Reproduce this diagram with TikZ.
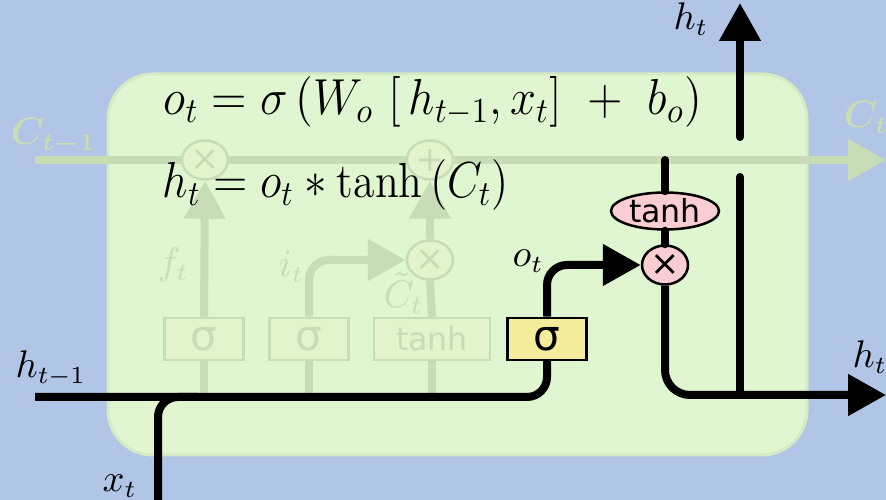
\documentclass[tikz,border=0pt]{standalone}
\usepackage{amsmath}
\usepackage{amssymb}
\usepackage{bm}
\usepackage{graphicx}
\usepackage{fontspec}
\usepackage{tikz}
\usetikzlibrary{arrows.meta, shapes.geometric}
\newfontfamily\gateFont{DejaVu Sans}
\definecolor{bgColor}{HTML}{B1C5E7}
\definecolor{cellColor}{HTML}{E0F6D0}
\definecolor{cellEdge}{HTML}{D4EBC3}
\definecolor{fadeColor}{HTML}{C8DCB6}
\definecolor{fadeFill}{HTML}{E3F4CC}
\definecolor{sigmaColor}{HTML}{F5EC9C}
\definecolor{pinkColor}{HTML}{F9CDD1}
\tikzset{
    mainLine/.style={line width=0.8mm, black, line cap=round, rounded corners=2mm},
    fadeLine/.style={line width=0.8mm, fadeColor, rounded corners=2mm},
    tipHead/.style={-{Triangle[length=3.8mm, width=4mm]}},
    gateBox/.style={draw, line width=0.25mm, minimum width=7.9mm, minimum height=4.2mm,
        inner sep=0pt, font=\gateFont\fontsize{12}{12}\selectfont},
    pointOp/.style={ellipse, draw, line width=0.25mm, minimum width=4.6mm, minimum height=3.9mm,
        inner sep=0pt, font=\gateFont\fontsize{10}{10}\selectfont},
    faded/.style={draw=fadeColor, fill=fadeFill, text=fadeColor},
    label/.style={anchor=base west, inner sep=0pt},
}
\begin{document}
\begin{tikzpicture}[x=0.1mm, y=-0.1mm, font=\fontsize{10.5}{12}\selectfont]
    \useasboundingbox[fill=bgColor] (0,0) rectangle (886,500);
    \draw[cellEdge, fill=cellColor, line width=0.3mm, rounded corners=4.5mm] (108,74) rectangle (807,455);

    \coordinate (cIn) at (35,160);
    \coordinate (cOut) at (886,160);
    \coordinate (hIn) at (35,397);
    \coordinate (xIn) at (158,500);
    \coordinate (cTap) at (665,160);
    \coordinate (hOut) at (886,395);
    \coordinate (hSplit) at (740,395);
    \coordinate (hSplitLow) at (740,177);
    \coordinate (hSplitHigh) at (740,137);
    \coordinate (hUp) at (740,3);

    \node[pointOp, faded] (multF) at (205,160) {×};
    \node[pointOp, faded] (addC) at (430,160) {+};
    \node[pointOp, faded] (multI) at (430,260) {×};
    \node[gateBox, faded] (sigF) at (204,339) {σ};
    \node[gateBox, faded] (sigI) at (309,339) {σ};
    \node[gateBox, faded, minimum width=11.6mm, font=\gateFont\fontsize{9}{9}\selectfont] (tanhC) at (432,339) {tanh};

    \draw[fadeLine, line cap=butt] (cIn) -- (multF.west);
    \draw[fadeLine] (multF.east) -- (addC.west);
    \draw[fadeLine, tipHead] (addC.east) -- (cOut);
    \draw[fadeLine, tipHead] (sigF.north) -- (multF.south);
    \draw[fadeLine, tipHead] (sigI.north) -- (sigI.north |- multI) -- (multI.west);
    \draw[fadeLine] (tanhC.north) -- (multI.south);
    \draw[fadeLine, tipHead] (multI.north) -- (addC.south);
    \draw[fadeLine] (sigF.south) -- (sigF.south |- hIn);
    \draw[fadeLine] (sigI.south) -- (sigI.south |- hIn);
    \draw[fadeLine] (tanhC.south) -- (tanhC.south |- hIn);

    \node[label, text=fadeColor] (cInLabel) at (10,145) {$\bm{C_{t-1}}$};
    \node[label, text=fadeColor] (cOutLabel) at (843,128) {$\bm{C_t}$};
    \node[label, text=fadeColor] (fLabel) at (157,275) {$f_t$};
    \node[label, text=fadeColor] (iLabel) at (278,277) {$i_t$};
    \node[label, text=fadeColor] (cTildeLabel) at (383,308) {$\tilde{C}_t$};

    \node[gateBox, fill=sigmaColor] (sigO) at (547,339) {σ};
    \node[pointOp, fill=pinkColor] (multO) at (665,265) {×};
    \node[pointOp, fill=pinkColor, minimum width=10.8mm, minimum height=3.7mm,
        font=\gateFont\fontsize{9}{9}\selectfont] (tanhO) at (665,211) {tanh};

    \draw[mainLine, line cap=butt] (hIn) -- (sigO.south |- hIn) -- (sigO.south);
    \draw[mainLine] (xIn) -- (xIn |- hIn) -- ([xshift=4mm]xIn |- hIn);
    \draw[mainLine, tipHead, line cap=butt] (sigO.north) -- (sigO.north |- multO) -- (multO.west);
    \draw[mainLine] (cTap) -- (tanhO.north);
    \draw[mainLine] (tanhO.south) -- (multO.north);
    \draw[mainLine, tipHead, line cap=butt, rounded corners=2.5mm] (multO.south) -- (multO.south |- hOut) -- (hOut);
    \draw[mainLine] (hSplitLow) -- (hSplit);
    \draw[mainLine, tipHead] (hSplitHigh) -- (hUp);

    \node[label] (hUpLabel) at (673,30) {$h_t$};
    \node[label] (oLabel) at (512,267) {$o_t$};
    \node[label] (hOutLabel) at (852,368) {$h_t$};
    \node[label] (hInLabel) at (15,378) {$h_{t-1}$};
    \node[label] (xLabel) at (102,492) {$x_t$};

    \node[label, font=\fontsize{14}{16}\selectfont] (eqO) at (163,115)
        {\scalebox{0.92}[1]{$o_t = \sigma\left(W_o\ [\,h_{t-1},x_t]\ +\ b_o\right)$}};
    \node[label, font=\fontsize{14}{16}\selectfont] (eqH) at (162,198)
        {\scalebox{0.89}[1]{$h_t = o_t * \tanh\left(C_t\right)$}};
\end{tikzpicture}
\end{document}
